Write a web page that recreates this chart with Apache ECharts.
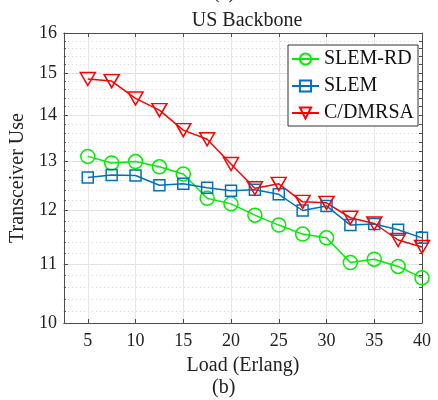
<!DOCTYPE html>
<html lang="en">
<head>
    <meta charset="UTF-8">
    <title>US Backbone</title>
    <style>
        html, body { margin: 0; padding: 0; background: #fff; }
        #main { width: 438px; height: 400px; }
    </style>
</head>
<body>
<div id="main"></div>
<script src="https://cdn.jsdelivr.net/npm/echarts@6/dist/echarts.min.js"></script>
<script>
    // load values (Erlang)
    var loads = [5, 7.5, 10, 12.5, 15, 17.5, 20, 22.5, 25, 27.5, 30, 32.5, 35, 37.5, 40];

    // transceiver use
    var slemRd = [13.10, 12.96, 12.99, 12.88, 12.73, 12.24, 12.13, 11.91, 11.72, 11.55, 11.48, 11.03, 11.09, 10.96, 10.76];
    var slem   = [12.66, 12.71, 12.70, 12.50, 12.53, 12.45, 12.39, 12.41, 12.32, 12.00, 12.09, 11.72, 11.74, 11.63, 11.48];
    var cdmrsa = [14.85, 14.80, 14.39, 14.12, 13.67, 13.47, 12.94, 12.44, 12.53, 12.17, 12.15, 11.86, 11.75, 11.44, 11.31];

    var xTicks = [5, 10, 15, 20, 25, 30, 35, 40];
    var yTicks = [10, 11, 12, 13, 14, 15, 16];
    var yMinor = [];
    for (var t = 10; t < 16.001; t += 0.2) { yMinor.push(Math.round(t * 10) / 10); }

    var font = 'Liberation Serif';
    var axisCol = '#4d4d4d';

    // y is a log axis: feed log10 values to a value axis
    function lg(v) { return Math.log10(v); }
    function pairs(ys) {
        return loads.map(function (x, i) { return [x, lg(ys[i])]; });
    }

    var myChart = echarts.init(document.getElementById('main'), null, {renderer: 'canvas'});

    function mkSeries(name, data, color, symbol, size, rotate) {
        return {
            name: name,
            type: 'line',
            data: pairs(data),
            symbol: symbol,
            symbolSize: size,
            symbolRotate: rotate || 0,
            lineStyle: {color: color, width: 1.5},
            itemStyle: {color: 'rgba(255,255,255,0)', borderColor: color, borderWidth: 1.5},
            emphasis: {disabled: true}
        };
    }

    var option = {
        animation: false,
        title: {
            text: 'US Backbone',
            left: 242,
            top: 6,
            textAlign: 'center',
            textStyle: {fontFamily: font, fontSize: 20, fontWeight: 'normal', color: '#222'}
        },
        graphic: [
            {type: 'text', left: 213, top: -17, style: {text: '(a)', font: '20px "Liberation Serif"', fill: '#222'}},
            {type: 'text', left: 212, top: 378, style: {text: '(b)', font: '20px "Liberation Serif"', fill: '#222'}}
        ],
        legend: {
            orient: 'vertical',
            left: 288,
            top: 45,
            padding: [4, 4, 3, 3],
            itemGap: 7,
            itemWidth: 27,
            itemHeight: 14,
            backgroundColor: '#fff',
            borderColor: '#333',
            borderWidth: 1,
            borderRadius: 0,
            textStyle: {fontFamily: font, fontSize: 20, color: '#111', lineHeight: 20},
            data: ['SLEM-RD', 'SLEM', 'C/DMRSA']
        },
        grid: {left: 62, right: 16, top: 33, bottom: 77},
        xAxis: [
            {
                type: 'value',
                min: 2.5,
                max: 40,
                name: 'Load (Erlang)',
                nameLocation: 'middle',
                nameGap: 33,
                nameTextStyle: {fontFamily: font, fontSize: 20, color: '#222'},
                axisLine: {lineStyle: {color: axisCol, width: 1}},
                axisTick: {inside: true, length: 4, customValues: xTicks, lineStyle: {color: axisCol}},
                axisLabel: {customValues: xTicks, margin: 9, fontFamily: font, fontSize: 18, color: '#222'},
                splitLine: {show: true, lineStyle: {color: '#e6e6e6', width: 1}}
            },
            {
                type: 'value',
                position: 'top',
                min: 2.5,
                max: 40,
                axisLine: {show: true, lineStyle: {color: axisCol, width: 1}},
                axisTick: {inside: true, length: 4, customValues: xTicks, lineStyle: {color: axisCol}},
                axisLabel: {show: false},
                splitLine: {show: false}
            }
        ],
        yAxis: [
            {
                type: 'value',
                min: lg(10),
                max: lg(16),
                name: 'Transceiver Use',
                nameLocation: 'middle',
                nameGap: 30,
                nameTextStyle: {fontFamily: font, fontSize: 20, color: '#222'},
                axisLine: {show: true, lineStyle: {color: axisCol, width: 1}},
                axisTick: {inside: true, length: 4, customValues: yTicks.map(lg), lineStyle: {color: axisCol}},
                axisLabel: {
                    customValues: yTicks.map(lg),
                    margin: 7,
                    fontFamily: font,
                    fontSize: 18,
                    color: '#222',
                    formatter: function (v) { return String(Math.round(Math.pow(10, v))); }
                },
                splitLine: {show: true, lineStyle: {color: '#e6e6e6', width: 1}}
            },
            {
                // minor dotted grid
                type: 'value',
                position: 'left',
                min: lg(10),
                max: lg(16),
                axisLine: {show: false},
                axisTick: {inside: true, length: 2, customValues: yMinor.map(lg), lineStyle: {color: axisCol}},
                axisLabel: {show: false},
                splitLine: {show: true, lineStyle: {color: '#d4d4d4', width: 1, type: [1, 3]}}
            },
            {
                type: 'value',
                position: 'right',
                min: lg(10),
                max: lg(16),
                axisLine: {show: true, lineStyle: {color: axisCol, width: 1}},
                axisTick: {inside: true, length: 3, customValues: yMinor.map(lg), lineStyle: {color: axisCol}},
                axisLabel: {show: false},
                splitLine: {show: false}
            }
        ],
        series: [
            mkSeries('SLEM-RD', slemRd, '#00ee00', 'circle', 14),
            mkSeries('SLEM', slem, '#0072BD', 'rect', 11),
            mkSeries('C/DMRSA', cdmrsa, '#ff0000', 'triangle', [15, 13], 180)
        ]
    };

    option.yAxis[1].z = 0;
    myChart.setOption(option);
</script>
</body>
</html>
